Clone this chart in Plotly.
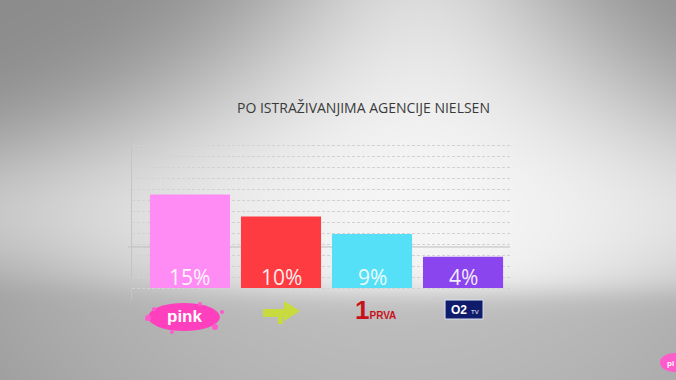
import base64, struct, zlib
import numpy as np
import plotly.graph_objects as go

# ---------------- data ----------------
channels = ["Pink", "Happy", "Prva", "O2"]
share_labels = ["15%", "10%", "9%", "4%"]
bar_heights = [8.5, 6.5, 4.9, 2.85]          # visual bar heights (grid units)
bar_colors = ["#FF8CF5", "#FF3B42", "#56E0F8", "#8A45EE"]
title_text = "PO ISTRAŽIVANJIMA AGENCIJE NIELSEN"

W, H = 676, 380
XDOM = [132 / W, 510 / W]
YDOM = [(H - 299) / H, (H - 133.8) / H]
XR = [-0.637, 3.516]
YR = [-1, 14.02]


# ---------------- background gradient (PNG data URI) ----------------
def gray_png_uri(arr):
    h, w = arr.shape
    raw = b"".join(b"\x00" + arr[i].tobytes() for i in range(h))

    def chunk(t, d):
        c = struct.pack(">I", len(d)) + t + d
        return c + struct.pack(">I", zlib.crc32(t + d) & 0xFFFFFFFF)

    png = (b"\x89PNG\r\n\x1a\n"
           + chunk(b"IHDR", struct.pack(">IIBBBBB", w, h, 8, 0, 0, 0, 0))
           + chunk(b"IDAT", zlib.compress(raw, 9))
           + chunk(b"IEND", b""))
    return "data:image/png;base64," + base64.b64encode(png).decode()


X, Y = np.meshgrid(np.arange(W) + 0.5, np.arange(H) + 0.5)
ax = (X - 420) / 420
ay = (Y - 215) / 215
wall = 140 + 106 * np.exp(-(0.57 * ax**2 + 0.29 * ay**2 + 5 * ax**2 * ay**2))
floor = 190 - 24 * ((X - 400) / 400) ** 2 - 6 * np.clip((Y - 300) / 80, 0, 1)
t = 1 / (1 + np.exp(-(Y - 293) / 7))
bg = np.clip(wall * (1 - t) + floor * t, 0, 255).astype(np.uint8)
bg_uri = gray_png_uri(bg)


def px_x(i, dx=0):
    """paper x for category index i plus a pixel offset"""
    plot_w = (XDOM[1] - XDOM[0]) * W
    return (XDOM[0] * W + (i - XR[0]) / (XR[1] - XR[0]) * plot_w + dx) / W


def px_y(py):
    return 1 - py / H


def txt(x, y, text, size, color, family="Liberation Sans", **kw):
    d = dict(x=x, y=y, xref="paper", yref="paper", text=text, showarrow=False,
             xanchor="center", yanchor="middle",
             font=dict(family=family, size=size, color=color))
    d.update(kw)
    return d


fig = go.Figure()
fig.add_trace(go.Bar(
    x=list(range(len(channels))), y=bar_heights,
    marker=dict(color=bar_colors, line=dict(width=0)),
    width=0.88, hoverinfo="skip",
))

shapes = []
annotations = []

# solid reference line across the chart
shapes.append(dict(type="line", xref="x domain", yref="y", x0=-0.011, x1=1.0,
                   y0=3.73, y1=3.73, line=dict(color="#bdbdbd", width=1), layer="below"))

# percentage labels inside bars
for i, lab in enumerate(share_labels):
    annotations.append(dict(x=i, y=0, xref="x", yref="y", text=lab, showarrow=False,
                            xanchor="center", yanchor="middle", yshift=11,
                            font=dict(family="Open Sans", size=21, color="rgba(255,255,255,0.92)")))

# title
annotations.append(txt(363 / W, px_y(107), title_text, 14, "#3a3a3a", family="Open Sans"))

# ---- logos (decorative) ----
# pink
pc = px_x(0, -6)
shapes.append(dict(type="circle", xref="paper", yref="paper", x0=pc - 36 / W, x1=pc + 36 / W,
                   y0=px_y(331), y1=px_y(303), fillcolor="#FF40BE", line=dict(width=0)))
for dx, py, r in [(-36, 318, 3), (31, 327, 3), (-12, 332, 2), (16, 304, 2), (38, 312, 2), (-30, 309, 2)]:
    shapes.append(dict(type="circle", xref="paper", yref="paper",
                       x0=pc + (dx - r) / W, x1=pc + (dx + r) / W,
                       y0=px_y(py + r), y1=px_y(py - r), fillcolor="#FF5ACB", line=dict(width=0)))
annotations.append(txt(px_x(0, -5), px_y(316), "<b>pink</b>", 17, "white"))

# lime logo
gc = px_x(1, 0)
lime = "#C8DB3E"
shapes.append(dict(type="rect", xref="paper", yref="paper", x0=gc - 18 / W, x1=gc + 6 / W,
                   y0=px_y(317), y1=px_y(309), fillcolor=lime, line=dict(width=0)))
shapes.append(dict(type="path", xref="paper", yref="paper",
                   path=f"M {gc + 3 / W},{px_y(301)} L {gc + 19 / W},{px_y(311)} L {gc + 3 / W},{px_y(321)} Z",
                   fillcolor=lime, line=dict(width=0)))
shapes.append(dict(type="rect", xref="paper", yref="paper", x0=gc - 3 / W, x1=gc + 2 / W,
                   y0=px_y(324), y1=px_y(314), fillcolor=lime, line=dict(width=0)))

# 1 PRVA (one text: big "1" followed by small "PRVA")
annotations.append(txt(px_x(2, 3), px_y(310),
                       "<b><span style='font-size:26px'>1</span>PRVA</b>", 10, "#C8121B"))

# O2 TV
oc = px_x(3, 1)
shapes.append(dict(type="rect", xref="paper", yref="paper", x0=oc - 19 / W, x1=oc + 19 / W,
                   y0=px_y(319), y1=px_y(300), fillcolor="#0F1B6B", line=dict(color="#dfe3f0", width=1)))
annotations.append(txt(oc - 5 / W, px_y(310), "<b>O2</b>", 12, "white"))
annotations.append(txt(oc + 11 / W, px_y(312), "TV", 6, "white"))

# small pink bug bottom-right
shapes.append(dict(type="circle", xref="paper", yref="paper", x0=660 / W, x1=688 / W,
                   y0=px_y(372), y1=px_y(353), fillcolor="#FF5CCB", line=dict(width=0)))
annotations.append(txt(670 / W, px_y(363), "<b>pi</b>", 8, "white"))

fig.update_layout(
    width=W, height=H,
    margin=dict(l=0, r=0, t=0, b=0),
    paper_bgcolor="rgba(0,0,0,0)", plot_bgcolor="rgba(0,0,0,0)",
    showlegend=False,
    images=[dict(source=bg_uri, xref="paper", yref="paper", x=0, y=1, sizex=1, sizey=1,
                 sizing="stretch", xanchor="left", yanchor="top", layer="below")],
    xaxis=dict(domain=XDOM, range=XR, showgrid=False, zeroline=False, showline=False,
               showticklabels=False, ticks="", fixedrange=True),
    yaxis=dict(domain=YDOM, range=YR, dtick=1, tick0=-1, showgrid=True, gridcolor="#d2d2d2",
               griddash="3px,2px", gridwidth=1, zeroline=False, showline=True, linecolor="#c4c4c4",
               linewidth=1, showticklabels=False, ticks="", fixedrange=True),
    shapes=shapes, annotations=annotations,
    bargap=0.12,
)

fig.write_html("out.html", config=dict(displayModeBar=False))
